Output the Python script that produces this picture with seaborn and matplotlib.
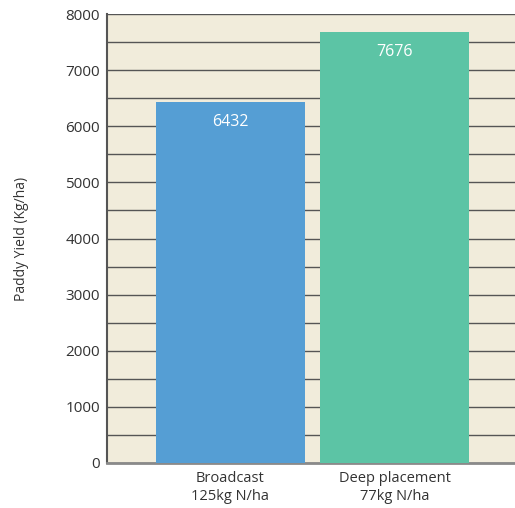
import matplotlib
matplotlib.use("Agg")
import matplotlib.pyplot as plt
import seaborn as sns
import pandas as pd
import numpy as np

categories = ["Broadcast\n125kg N/ha", "Deep placement\n77kg N/ha"]
yields = [6432, 7676]
bar_colors = ["#559ed4", "#5cc4a5"]
y_ticks = [0, 1000, 2000, 3000, 4000, 5000, 6000, 7000, 8000]

sns.set_theme(style="white")
plt.rcParams["font.family"] = ["Open Sans", "DejaVu Sans"]

df = pd.DataFrame({"cat": categories, "val": yields})

fig = plt.figure(figsize=(5.15, 5.08), dpi=100)
ax = fig.add_axes([107/515, 45/508, 408/515, 449/508])
ax.set_facecolor("#f1ecdb")

sns.barplot(data=df, x="cat", y="val", hue="cat", palette=bar_colors,
            width=0.91, legend=False, ax=ax, zorder=3, saturation=1,
            linewidth=0)

ax.set_ylim(0, 8000)
ax.set_xlim(-0.753, 1.735)
ax.set_yticks(y_ticks)
ax.set_yticks(np.arange(500, 8000, 1000), minor=True)
ax.grid(axis="y", which="both", color="#555555", linewidth=1.0, zorder=0)
ax.set_axisbelow(True)

for i, v in enumerate(yields):
    ax.text(i, v - 360, f"{v}", ha="center", va="center", color="white",
            fontsize=11.5, zorder=4)

ax.tick_params(axis="y", which="both", length=0, labelsize=11, labelcolor="#333333", pad=5)
ax.tick_params(axis="x", length=0, labelsize=10.5, labelcolor="#333333", pad=6)
ax.set_xlabel("")
ax.set_ylabel("Paddy Yield (Kg/ha)", fontsize=10, color="#333333", labelpad=26)

for s in ["top", "right"]:
    ax.spines[s].set_visible(False)
ax.spines["left"].set_color("#555555")
ax.spines["left"].set_linewidth(1.5)
ax.spines["bottom"].set_color("#8a8a8a")
ax.spines["bottom"].set_linewidth(2)

fig.savefig("out.png", dpi=100, facecolor="white")
